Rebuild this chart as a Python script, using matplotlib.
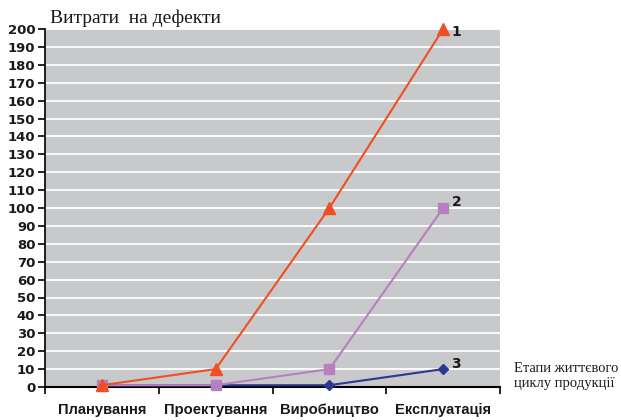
import matplotlib
matplotlib.use("Agg")
import matplotlib.pyplot as plt
import numpy as np

categories = ["Планування", "Проектування", "Виробництво", "Експлуатація"]
series1 = [1, 10, 100, 200]
series2 = [1, 1, 10, 100]
series3 = [1, 1, 1, 10]
labels = ["1", "2", "3"]
yticks = list(range(0, 201, 10))

fig = plt.figure(figsize=(6.21, 4.2), dpi=100)
ax = fig.add_axes([45/621, 1-387/420, 455/621, 358/420])
ax.set_facecolor("#C8C9CB")
x = np.arange(len(categories))

ax.plot(x, series3, color="#2B3990", marker="D", markersize=5.5, lw=1.5, clip_on=False, zorder=3)
ax.plot(x, series2, color="#B77FC0", marker="s", markersize=7, lw=1.5, clip_on=False, zorder=4)
ax.plot(x, series1, color="#F04E23", marker="^", markersize=8, lw=1.5, clip_on=False, zorder=5)

offsets = [(6, -2), (6, 4), (6, 3.5)]
for s, lab, off in zip([series1, series2, series3], labels, offsets):
    ax.annotate(lab, (x[-1], s[-1]), xytext=off, textcoords="offset points",
                fontsize=10, fontweight="bold", family="DejaVu Sans", va="center", ha="left",
                color="#1a1a1a")

ax.set_xlim(-0.5, len(categories) - 0.5)
ax.set_ylim(0, 200)
ax.set_yticks(yticks)
ax.set_yticklabels([str(v) for v in yticks], fontsize=9.5, fontweight="bold", family="DejaVu Sans")
ax.yaxis.grid(True, color="white", lw=1.3)
ax.set_axisbelow(True)
ax.set_xticks(np.arange(-0.5, len(categories), 1.0))
ax.set_xticklabels([])
ax.set_xticks(x, minor=True)
ax.set_xticklabels(categories, minor=True, fontsize=10.6, fontweight="bold", family="Liberation Sans",
                   color="#1a1a1a")
ax.tick_params(axis="x", which="minor", length=0, pad=11.5)
ax.tick_params(axis="x", which="major", length=5, width=1.2, direction="out")
ax.tick_params(axis="y", length=5, width=1.2, direction="out", pad=2, labelcolor="#1a1a1a")
for sp in ["top", "right"]:
    ax.spines[sp].set_visible(False)
ax.spines["bottom"].set_linewidth(1.5)
ax.spines["left"].set_linewidth(1.2)

fig.text(50/621, 1-18/420, "Витрати  на дефекти", fontsize=14, family="Liberation Serif", va="center", ha="left",
         color="#1a1a1a")
fig.text(514/621, 1-376/420, "Етапи життєвого\nциклу продукції", fontsize=10.5, family="Liberation Serif",
         va="center", ha="left", linespacing=1.3, color="#1a1a1a")

fig.savefig("out.png", dpi=100)
